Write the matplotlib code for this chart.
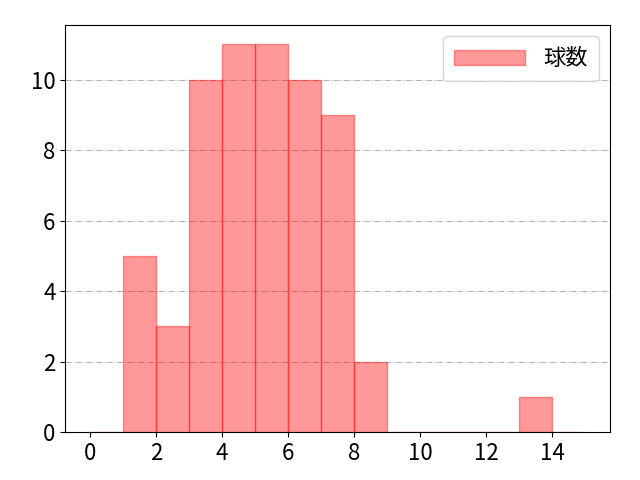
import numpy as np
import matplotlib.pyplot as plt

plt.rcParams['font.family'] = ['Noto Sans CJK JP', 'DejaVu Sans']
plt.rcParams['font.size'] = 16

bin_edges = list(range(0, 16))
counts = [0, 5, 3, 10, 11, 11, 10, 9, 2, 0, 0, 0, 0, 1, 0]

fig, ax = plt.subplots(figsize=(6.4, 4.8), dpi=100)
ax.hist(bin_edges[:-1], bins=bin_edges, weights=counts,
        color='red', alpha=0.4, edgecolor='red', linewidth=1, label='球数')
ax.grid(axis='y', color='gray', linestyle='-.', linewidth=0.7, alpha=0.6)
ax.set_axisbelow(True)
ax.set_xticks(range(0, 16, 2))
ax.legend(loc='upper right', handlelength=3.2, borderpad=0.5)
fig.subplots_adjust(left=0.102, right=0.953, top=0.948, bottom=0.1)
fig.savefig('out.png')
